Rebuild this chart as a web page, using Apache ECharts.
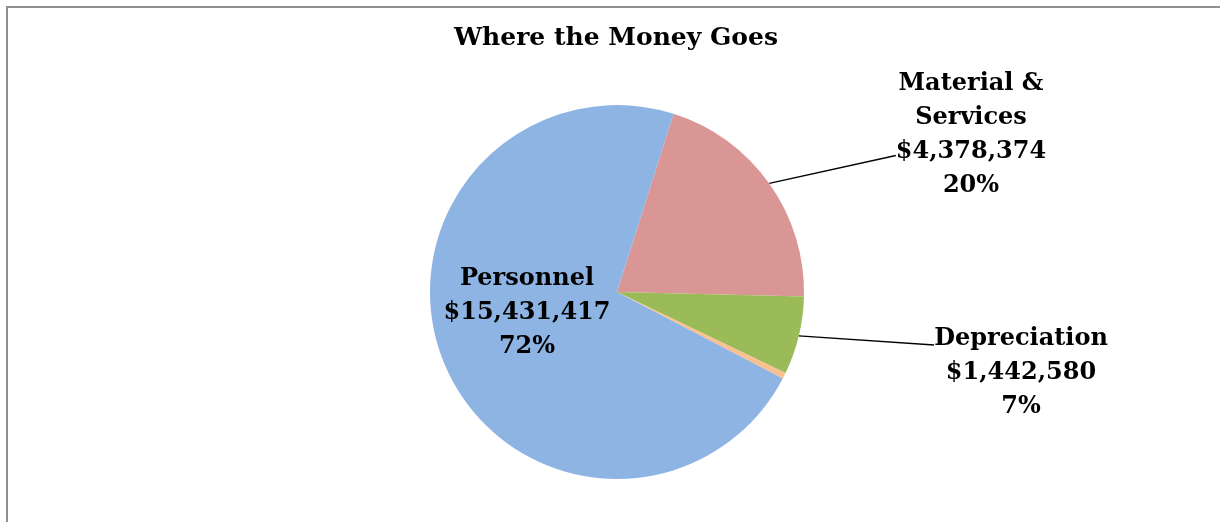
<!DOCTYPE html>
<html>
<head>
<meta charset="utf-8">
<script src="https://cdn.jsdelivr.net/npm/echarts@6/dist/echarts.min.js"></script>
<style>
  html, body { margin: 0; padding: 0; background: #ffffff; }
  #chart { width: 1220px; height: 522px; }
</style>
</head>
<body>
<div id="chart"></div>
<script>
// Data (clockwise order, starting from the top-right slice)
var categories = ['Material &\nServices', 'Depreciation', 'Other', 'Personnel'];
var values = [4378374, 1442580, 110000, 15431417];
var sliceColors = ['#D99694', '#9BBB59', '#FAC090', '#8EB4E3'];
var showLabel = [true, true, false, true];

var total = values.reduce(function (a, b) { return a + b; }, 0);
function money(v) {
  return '$' + v.toString().replace(/\B(?=(\d{3})+(?!\d))/g, ',');
}

// label block placement (x, y = centre of the label box incl. spacer line)
var labelPos = {
  0: { x: 971, y: 155.5 },
  1: { x: 1021, y: 345 },
  3: { x: 527, y: 313 }
};

var font = '"DejaVu Serif", serif';
var seriesData = categories.map(function (c, i) {
  var item = {
    name: c,
    value: values[i],
    itemStyle: { color: sliceColors[i] },
    label: { show: showLabel[i] },
    labelLine: { show: showLabel[i] && i !== 3 }
  };
  if (i === 3) {
    item.label.position = 'inside';
  }
  return item;
});

var chart = echarts.init(document.getElementById('chart'), null, { renderer: 'canvas' });
chart.setOption({
  backgroundColor: '#ffffff',
  animation: false,
  title: {
    text: 'Where the Money Goes',
    left: 611,
    top: 21,
    textAlign: 'center',
    textStyle: { fontFamily: font, fontWeight: 'bold', fontSize: 25, color: '#000000' }
  },
  graphic: [{
    type: 'rect',
    shape: { x: 7, y: 7, width: 1400, height: 800 },
    style: { fill: 'none', stroke: '#8f8f8f', lineWidth: 2 },
    silent: true
  }],
  series: [{
    type: 'pie',
    center: [617, 292],
    radius: 187,
    startAngle: 72.4,
    clockwise: true,
    avoidLabelOverlap: false,
    itemStyle: { borderWidth: 0 },
    label: {
      show: true,
      position: 'outside',
      fontFamily: font,
      fontWeight: 'bold',
      fontSize: 24,
      lineHeight: 34,
      color: '#000000',
      align: 'center',
      formatter: function (p) {
        var pct = Math.round(p.value / total * 100);
        var txt = p.name + '\n' + money(p.value) + '\n' + pct + '%';
        // invisible spacer lines move the point where the leader line meets the label
        if (p.dataIndex === 0) return txt + '\n{gapA| }';
        if (p.dataIndex === 1) return '{gapB| }\n' + txt;
        return txt;
      },
      rich: {
        gapA: { fontSize: 1, lineHeight: 42 },
        gapB: { fontSize: 1, lineHeight: 56 }
      }
    },
    labelLine: {
      show: true,
      length: 20,
      length2: 0,
      lineStyle: { color: '#000000', width: 1.3 }
    },
    labelLayout: function (params) {
      var pos = labelPos[params.dataIndex];
      if (!pos) return {};
      return { x: pos.x, y: pos.y, align: 'center', verticalAlign: 'middle' };
    },
    emphasis: { disabled: true },
    data: seriesData
  }]
});
</script>
</body>
</html>
